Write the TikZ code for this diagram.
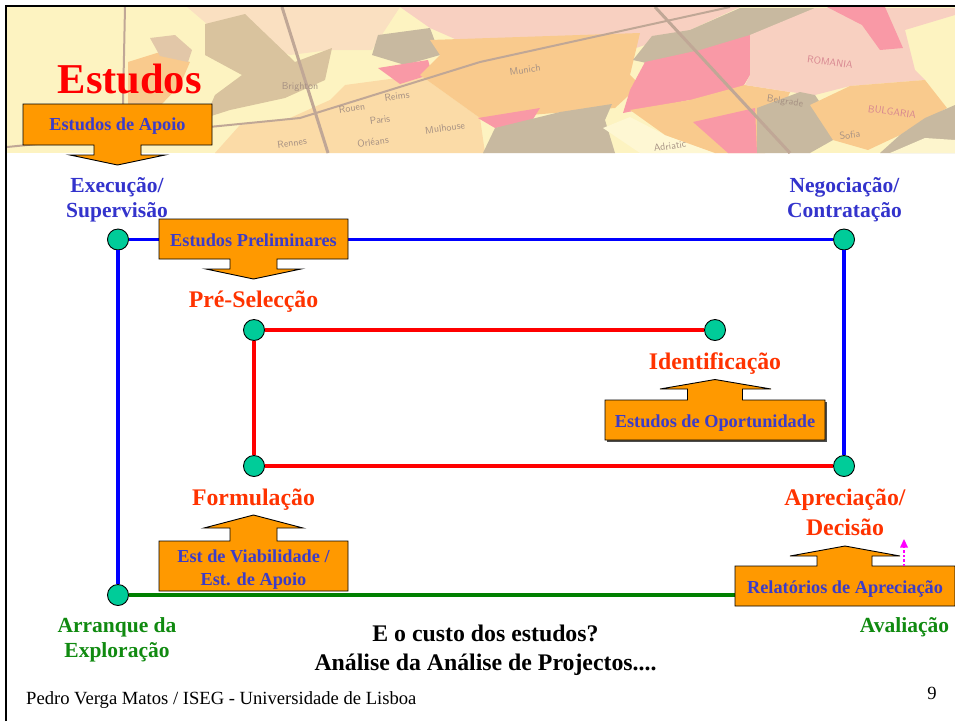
\documentclass[tikz,border=0pt]{standalone}
\usepackage{fontspec}
\setmainfont{Liberation Serif}
\definecolor{boxorange}{HTML}{FF9900}
\definecolor{boxtext}{HTML}{3C3CC8}
\definecolor{bluetext}{HTML}{3333CC}
\definecolor{redtext}{HTML}{FF3300}
\definecolor{greentext}{HTML}{108A10}
\definecolor{nodegreen}{HTML}{00CC99}
\definecolor{linegreen}{HTML}{008000}
\definecolor{arrowmagenta}{HTML}{FF00FF}
\definecolor{mapsea}{HTML}{FDF3BC}
\definecolor{mapland}{HTML}{D6BE96}
\definecolor{maptan}{HTML}{C8B08C}
\definecolor{maporange}{HTML}{F9C684}
\definecolor{mappink}{HTML}{F9919F}
\definecolor{mapblush}{HTML}{F8CDBC}
\definecolor{mappeach}{HTML}{FBD8A0}
\definecolor{mapgrey}{HTML}{C4B498}
\definecolor{mapgrid}{HTML}{BBA08E}
\tikzset{
  x=1pt,y=-1pt,
  orangebox/.style={draw=black,line width=.9pt,fill=boxorange,line join=miter},
  waypoint/.style={circle,draw=black,line width=.9pt,fill=nodegreen,minimum size=21pt,inner sep=0pt},
  boxlabel/.style={font=\fontsize{18.3}{22.5}\selectfont\bfseries,text=boxtext,inner sep=0pt},
  stagelabel/.style={font=\fontsize{21.5}{25}\selectfont\bfseries,inner sep=0pt},
  phaselabel/.style={font=\fontsize{23.8}{30}\selectfont\bfseries,text=redtext,inner sep=0pt},
  mapword/.style={font=\fontsize{10}{10}\selectfont\sffamily,text=mapgrid!85!black,inner sep=0pt},
  link/.style={line width=3.3pt}
}
\begin{document}
\begin{tikzpicture}
\useasboundingbox (0,0) rectangle (955,721);
\fill[white] (0,0) rectangle (955,721);
% ---- map banner
\begin{scope}
\clip (7,7) rectangle (955,153);
\fill[mapsea] (7,7) rectangle (955,153);
% Ireland
\fill[maporange] (128,62) -- (160,52) -- (190,62) -- (180,85) -- (160,106) -- (128,106) -- cycle;
\fill[mapland!70!mapblush] (150,38) -- (175,35) -- (192,50) -- (188,62) -- (160,56) -- cycle;
% pale land, top
\fill[mapblush!55!mapsea] (187,7) -- (400,7) -- (372,50) -- (330,50) -- (290,55) -- (207,24) -- cycle;
% France and Low Countries
\fill[mappeach] (215,153) -- (240,125) -- (290,118) -- (330,100) -- (345,85) -- (420,75) -- (480,118) -- (485,153) -- cycle;
% Britain
\fill[mapland] (205,24) -- (245,14) -- (270,38) -- (295,62) -- (332,48) -- (325,80) -- (285,98) -- (230,110) -- (205,118) -- (215,95) -- (242,75) -- (205,55) -- cycle;
% Holland / N Germany
\fill[mapgrey] (372,55) -- (378,35) -- (430,28) -- (440,55) -- (405,65) -- cycle;
\fill[mappink] (378,68) -- (428,60) -- (432,74) -- (400,84) -- cycle;
% top blush
\fill[mapblush] (400,7) -- (740,7) -- (690,30) -- (630,50) -- (480,50) -- (430,28) -- cycle;
% Germany / Austria
\fill[maporange] (430,40) -- (640,33) -- (630,75) -- (640,85) -- (615,108) -- (530,115) -- (480,118) -- (420,75) -- (440,55) -- cycle;
% Switzerland
\fill[mappink] (478,118) -- (540,108) -- (530,124) -- (495,128) -- cycle;
% Italy
\fill[mapgrey] (483,153) -- (495,128) -- (560,112) -- (612,104) -- (605,120) -- (615,153) -- cycle;
% Adriatic
\fill[mapsea!70!white] (603,128) -- (630,117) -- (665,135) -- (715,153) -- (640,153) -- cycle;
% Poland / Czech
\fill[mapgrey] (633,60) -- (652,36) -- (690,30) -- (740,8) -- (815,8) -- (770,33) -- (720,60) -- (660,66) -- cycle;
% Hungary region
\fill[mappink] (645,62) -- (700,50) -- (750,35) -- (750,75) -- (735,100) -- (690,100) -- (623,113) -- (630,90) -- cycle;
% Croatia
\fill[maporange] (630,110) -- (690,100) -- (745,85) -- (790,92) -- (765,153) -- (715,153) -- (665,135) -- cycle;
\fill[mappink] (693,122) -- (755,108) -- (757,153) -- (728,153) -- cycle;
% Romania
\fill[mapblush] (750,35) -- (815,8) -- (955,8) -- (955,15) -- (905,30) -- (915,70) -- (925,80) -- (850,86) -- (815,95) -- (790,92) -- (745,85) -- (750,75) -- cycle;
\fill[mappink] (827,7) -- (885,7) -- (903,48) -- (880,50) -- (862,25) -- cycle;
% Yugoslavia
\fill[mapgrey] (757,108) -- (800,92) -- (815,95) -- (830,118) -- (833,140) -- (810,153) -- (757,153) -- cycle;
% Bulgaria
\fill[maporange] (810,105) -- (850,86) -- (925,80) -- (947,108) -- (900,135) -- (868,150) -- (833,140) -- cycle;
\fill[mapgrey] (925,118) -- (955,105) -- (955,153) -- (880,153) -- (900,135) -- cycle;
\fill[mapsea!80!white] (890,153) -- (925,138) -- (955,140) -- (955,153) -- cycle;
% grid
\draw[mapgrid,line width=2pt] (125,7) -- (122,153);
\draw[mapgrid,line width=3pt] (282,7) -- (328,153);
\draw[mapgrid,line width=3pt] (655,7) -- (790,153);
\draw[mapgrid,line width=2pt] (7,147) -- (300,118) -- (480,62) -- (730,7);
% place names
\node[mapword] at (300,87) {Brighton};
\node[mapword,rotate=8] at (352,108) {Rouen};
\node[mapword,rotate=8] at (397,96) {Reims};
\node[mapword,rotate=8] at (380,120) {Paris};
\node[mapword,rotate=8] at (373,142) {Orléans};
\node[mapword,rotate=8] at (292,143) {Rennes};
\node[mapword,rotate=8] at (445,128) {Mulhouse};
\node[mapword,rotate=8] at (525,70) {Munich};
\node[mapword,rotate=-8,text=mappink!85!black] at (830,62) {ROMANIA};
\node[mapword,rotate=-8,text=mappink!85!black] at (892,112) {BULGARIA};
\node[mapword,rotate=8] at (670,146) {Adriatic};
\node[mapword,rotate=-8] at (785,102) {Belgrade};
\node[mapword,rotate=8] at (850,135) {Sofia};
\fill[white,opacity=.08] (7,7) rectangle (955,153);
\end{scope}
% ---- frame
\draw[black,line width=2.6pt] (6,721) -- (6,6) -- (955,6);
% ---- title
\node[anchor=base west,font=\fontsize{42.5}{42.5}\selectfont\bfseries,text=red,inner sep=0pt] (title) at (57.5,93.5) {Estudos};
% ---- waypoints
\node[waypoint] (es) at (118,239.5) {};
\node[waypoint] (nc) at (844,239.5) {};
\node[waypoint] (ps) at (254,330) {};
\node[waypoint] (id) at (715,330) {};
\node[waypoint] (fo) at (254,466) {};
\node[waypoint] (ad) at (844,466) {};
\node[waypoint] (ae) at (118,595) {};
\coordinate (avend) at (760,595);
% ---- connectors
\draw[link,blue] (es) -- (nc);
\draw[link,blue] (nc) -- (ad);
\draw[link,blue] (es) -- (ae);
\draw[link,red] (ps) -- (id);
\draw[link,red] (ps) -- (fo);
\draw[link,red] (fo) -- (ad);
\draw[link,linegreen,line width=3.4pt] (ae) -- (avend);
% ---- callouts
\draw[orangebox] (23,104) -- (212,104) -- (212,145) -- (141,145) -- (141,155) -- (165,155) -- (117.5,165) -- (70,155) -- (94,155) -- (94,145) -- (23,145) -- cycle;
\node[boxlabel,anchor=base] (b1) at (117.5,130.5) {Estudos de Apoio};
\draw[orangebox] (159,219) -- (348,219) -- (348,259) -- (277,259) -- (277,269) -- (301,269) -- (253.5,279) -- (206,269) -- (230,269) -- (230,259) -- (159,259) -- cycle;
\node[boxlabel,anchor=base] (b2) at (253.5,246) {Estudos Preliminares};
\fill[black!70] (607,402) rectangle (827,442);
\draw[orangebox] (605,400) -- (687.5,400) -- (687.5,389) -- (660,389) -- (715,379.5) -- (771,389) -- (742.5,389) -- (742.5,400) -- (825,400) -- (825,440) -- (605,440) -- cycle;
\node[boxlabel,anchor=base] (b3) at (715,427) {Estudos de Oportunidade};
\draw[orangebox] (159,541) -- (230,541) -- (230,528) -- (204,528) -- (253.5,515) -- (303,528) -- (277,528) -- (277,541) -- (348,541) -- (348,591) -- (159,591) -- cycle;
\node[boxlabel,align=center] (b4) at (253.5,569.5) {Est de Viabilidade /\\Est. de Apoio};
\draw[orangebox] (735,566) -- (817,566) -- (817,556) -- (790,556) -- (845,546) -- (900,556) -- (872,556) -- (872,566) -- (955,566) -- (955,606) -- (735,606) -- cycle;
\node[boxlabel,anchor=base] (b5) at (845,593) {Relatórios de Apreciação};
% ---- magenta arrow
\coordinate (ma) at (904,566);
\coordinate (mb) at (904,547);
\draw[arrowmagenta,line width=2pt,dash pattern=on 2.5pt off 2pt] (ma) -- (mb);
\fill[arrowmagenta] (900,547.5) -- (904,539) -- (908,547.5) -- cycle;
% ---- labels
\node[stagelabel,align=center,text=bluetext] (l1) at (117,200) {Execução/\\Supervisão};
\node[stagelabel,align=center,text=bluetext] (l2) at (844.5,200) {Negociação/\\Contratação};
\node[phaselabel,anchor=base] (l3) at (253.5,307) {Pré-Selecção};
\node[phaselabel,anchor=base] (l4) at (715,369.5) {Identificação};
\node[phaselabel,anchor=base] (l5) at (253.5,505) {Formulação};
\node[phaselabel,align=center] (l6) at (845,512) {Apreciação/\\Decisão};
\node[stagelabel,align=center,text=greentext] (l7) at (117,639.5) {Arranque da\\Exploração};
\node[stagelabel,anchor=base,text=greentext] (l8) at (904.5,632) {Avaliação};
\node[font=\fontsize{23.8}{29}\selectfont\bfseries,align=center,inner sep=0pt] (q) at (485.5,650) {E o custo dos estudos?\\Análise da Análise de Projectos....};
\node[anchor=base west,font=\fontsize{18.6}{18.6}\selectfont,inner sep=0pt] (foot) at (26,704) {Pedro Verga Matos / ISEG - Universidade de Lisboa};
\node[font=\fontsize{18.6}{18.6}\selectfont,inner sep=0pt] (pg) at (932,693) {9};
\end{tikzpicture}
\end{document}
